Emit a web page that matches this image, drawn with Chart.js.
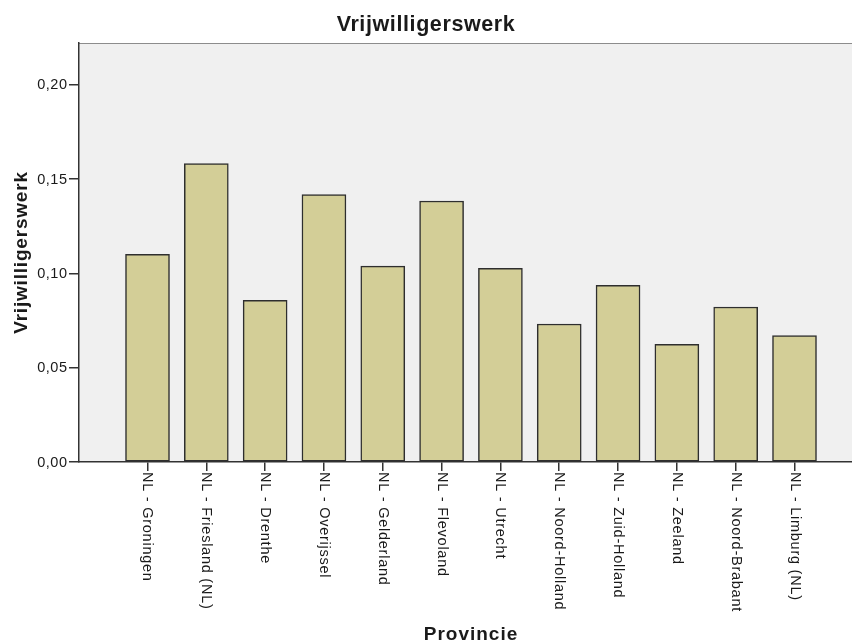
<!DOCTYPE html>
<html>
<head>
<meta charset="utf-8">
<script src="https://cdn.jsdelivr.net/npm/chart.js@4.4.1/dist/chart.umd.min.js"></script>
<style>
  html, body { margin: 0; padding: 0; background: #fff; overflow: hidden; }
  #wrap { width: 852px; height: 643px; overflow: hidden; }
  canvas { display: block; }
</style>
</head>
<body>
<div id="wrap"><canvas id="chart" width="864" height="643"></canvas></div>
<script>
const provinces = [
  'NL - Groningen', 'NL - Friesland (NL)', 'NL - Drenthe', 'NL - Overijssel',
  'NL - Gelderland', 'NL - Flevoland', 'NL - Utrecht', 'NL - Noord-Holland',
  'NL - Zuid-Holland', 'NL - Zeeland', 'NL - Noord-Brabant', 'NL - Limburg (NL)'
];
const vrijwilligerswerk = [
  0.1101, 0.1582, 0.0857, 0.1418, 0.1039, 0.1384,
  0.1027, 0.0732, 0.0937, 0.0624, 0.0822, 0.0670
];
const yTicks = [0, 0.05, 0.10, 0.15, 0.20];

const chartTitle = 'Vrijwilligerswerk';
const xTitle = 'Provincie';
const yTitle = 'Vrijwilligerswerk';

const FONT = 'Arial, "Liberation Sans", sans-serif';
const TEXT = '#1a1a1a';
const AXIS = '#333333';

const fmt = v => v.toFixed(2).replace('.', ',');

// SPSS-ish look: grey plot area, slightly spaced text, rotated category labels
const spssLook = {
  id: 'spssLook',
  beforeDraw(chart) {
    const { ctx, chartArea: a } = chart;
    ctx.save();
    ctx.fillStyle = '#f0f0f0';
    ctx.fillRect(a.left, a.top, a.right - a.left, a.bottom - a.top);
    ctx.strokeStyle = '#8c8c8c';
    ctx.lineWidth = 1;
    ctx.beginPath();
    ctx.moveTo(a.left, a.top + 0.5);
    ctx.lineTo(a.right, a.top + 0.5);
    ctx.lineTo(a.right - 0.5, a.bottom);
    ctx.stroke();
    ctx.restore();
  },
  afterDraw(chart) {
    const { ctx, chartArea: a } = chart;
    const x = chart.scales.x;
    const y = chart.scales.y;
    ctx.save();
    ctx.fillStyle = TEXT;

    ctx.font = 'bold 21.5px ' + FONT;
    ctx.letterSpacing = '0.6px';
    ctx.textAlign = 'center';
    ctx.textBaseline = 'alphabetic';
    ctx.fillText(chartTitle, 426, 31);

    ctx.font = 'bold 19px ' + FONT;
    ctx.letterSpacing = '1px';
    ctx.fillText(xTitle, (a.left + a.right) / 2, 640);

    ctx.save();
    ctx.letterSpacing = '0.8px';
    ctx.translate(26.5, (a.top + a.bottom) / 2);
    ctx.rotate(-Math.PI / 2);
    ctx.fillText(yTitle, 0, 0);
    ctx.restore();

    // y tick labels
    ctx.font = '14.5px ' + FONT;
    ctx.letterSpacing = '0.5px';
    ctx.textAlign = 'right';
    ctx.textBaseline = 'middle';
    yTicks.forEach(v => {
      ctx.fillText(fmt(v), 67.5, y.getPixelForValue(v) + 0.5);
    });

    // category labels, reading top to bottom
    ctx.font = '14.5px ' + FONT;
    ctx.letterSpacing = '0.75px';
    ctx.textAlign = 'left';
    provinces.forEach((name, i) => {
      ctx.save();
      ctx.translate(x.getPixelForValue(i), a.bottom + 10);
      ctx.rotate(Math.PI / 2);
      ctx.fillText(name, 0, 0);
      ctx.restore();
    });
    ctx.restore();
  }
};

new Chart(document.getElementById('chart'), {
  type: 'bar',
  data: {
    datasets: [{
      label: yTitle,
      data: vrijwilligerswerk.map((v, i) => ({ x: i, y: v })),
      backgroundColor: '#d3ce97',
      borderColor: '#2e2e2e',
      borderWidth: 1.5,
      borderSkipped: false,
      barThickness: 44,
    }]
  },
  options: {
    responsive: false,
    animation: false,
    devicePixelRatio: 1,
    layout: { padding: { top: 43, right: 1, left: 0, bottom: 0 } },
    plugins: {
      legend: { display: false },
      title: { display: false },
      tooltip: { enabled: false },
    },
    scales: {
      x: {
        type: 'linear',
        offset: false,
        min: -1.1646,
        max: provinces.length - 1 + 1.1646,
        afterBuildTicks: s => { s.ticks = provinces.map((_, i) => ({ value: i })); },
        afterFit: s => { s.height = 181; },
        ticks: { display: false },
        grid: { offset: false, drawOnChartArea: false, drawTicks: true, tickLength: 9, color: AXIS, lineWidth: 1.5 },
        border: { display: true, color: AXIS, width: 1.5 },
      },
      y: {
        min: 0,
        max: 0.2222,
        afterBuildTicks: s => { s.ticks = yTicks.map(v => ({ value: v })); },
        afterFit: s => { s.width = 79; },
        ticks: { display: false },
        grid: { drawOnChartArea: false, drawTicks: true, tickLength: 10, color: AXIS, lineWidth: 1.5 },
        border: { display: true, color: AXIS, width: 1.5 },
      }
    }
  },
  plugins: [spssLook]
});
</script>
</body>
</html>
